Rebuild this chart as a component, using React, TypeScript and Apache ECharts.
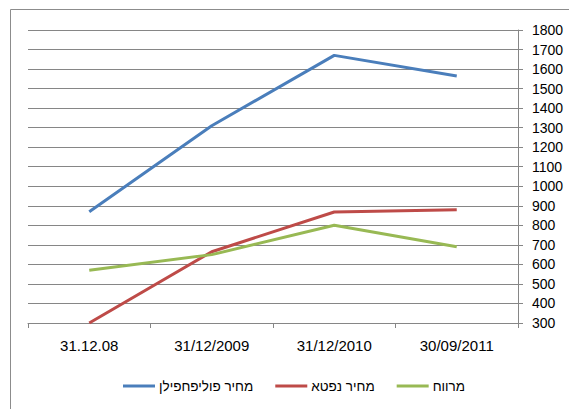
import React, { useEffect, useRef } from "react";
import * as echarts from "echarts";

const categories = ["31.12.08", "31/12/2009", "31/12/2010", "30/09/2011"];
const polyPrice = [870, 1310, 1670, 1565];
const naphthaPrice = [300, 665, 868, 880];
const spread = [570, 650, 800, 690];
const seriesNames = ["מחיר פוליפחפילן", "מחיר נפטא", "מרווח"];

export default function App() {
  const ref = useRef<HTMLDivElement>(null);
  useEffect(() => {
    document.body.style.margin = "0";
    const chart = echarts.init(ref.current!, null, { renderer: "svg" });
    const font = "'Liberation Sans', Arial, sans-serif";
    chart.setOption({
      animation: false,
      backgroundColor: "#ffffff",
      graphic: [
        {
          type: "rect",
          shape: { x: 10.5, y: 9.5, width: 620, height: 430 },
          style: { fill: "none", stroke: "#8c8c8c", lineWidth: 1 },
          z: 0,
        },
      ],
      grid: { left: 28, right: 51, top: 30, bottom: 86 },
      legend: {
        bottom: 11,
        left: 118,
        icon: "rect",
        itemWidth: 32,
        itemHeight: 3,
        itemGap: 22,
        textStyle: { fontFamily: font, fontSize: 13.5, color: "#000", padding: [0, 0, 0, -1] },
        data: seriesNames,
      },
      xAxis: {
        type: "category",
        data: categories,
        boundaryGap: true,
        axisLine: { lineStyle: { color: "#868686" } },
        axisTick: { show: true, length: 5, lineStyle: { color: "#868686" } },
        axisLabel: { fontFamily: font, fontSize: 15, color: "#000", margin: 15 },
      },
      yAxis: {
        type: "value",
        position: "right",
        min: 300,
        max: 1800,
        interval: 100,
        axisLine: { show: true, lineStyle: { color: "#868686" } },
        axisTick: { show: true, length: 5, lineStyle: { color: "#868686" } },
        axisLabel: { fontFamily: font, fontSize: 14, color: "#000", margin: 14, formatter: (v: number) => String(v) },
        splitLine: { lineStyle: { color: "#868686" } },
      },
      series: [
        { name: seriesNames[0], type: "line", data: polyPrice, symbol: "none", lineStyle: { width: 3, color: "#4A7EBB" }, itemStyle: { color: "#4A7EBB" } },
        { name: seriesNames[1], type: "line", data: naphthaPrice, symbol: "none", lineStyle: { width: 3, color: "#BE4B48" }, itemStyle: { color: "#BE4B48" } },
        { name: seriesNames[2], type: "line", data: spread, symbol: "none", lineStyle: { width: 3, color: "#98B954" }, itemStyle: { color: "#98B954" } },
      ],
    });
    return () => chart.dispose();
  }, []);
  return <div ref={ref} style={{ width: 569, height: 409 }} />;
}
